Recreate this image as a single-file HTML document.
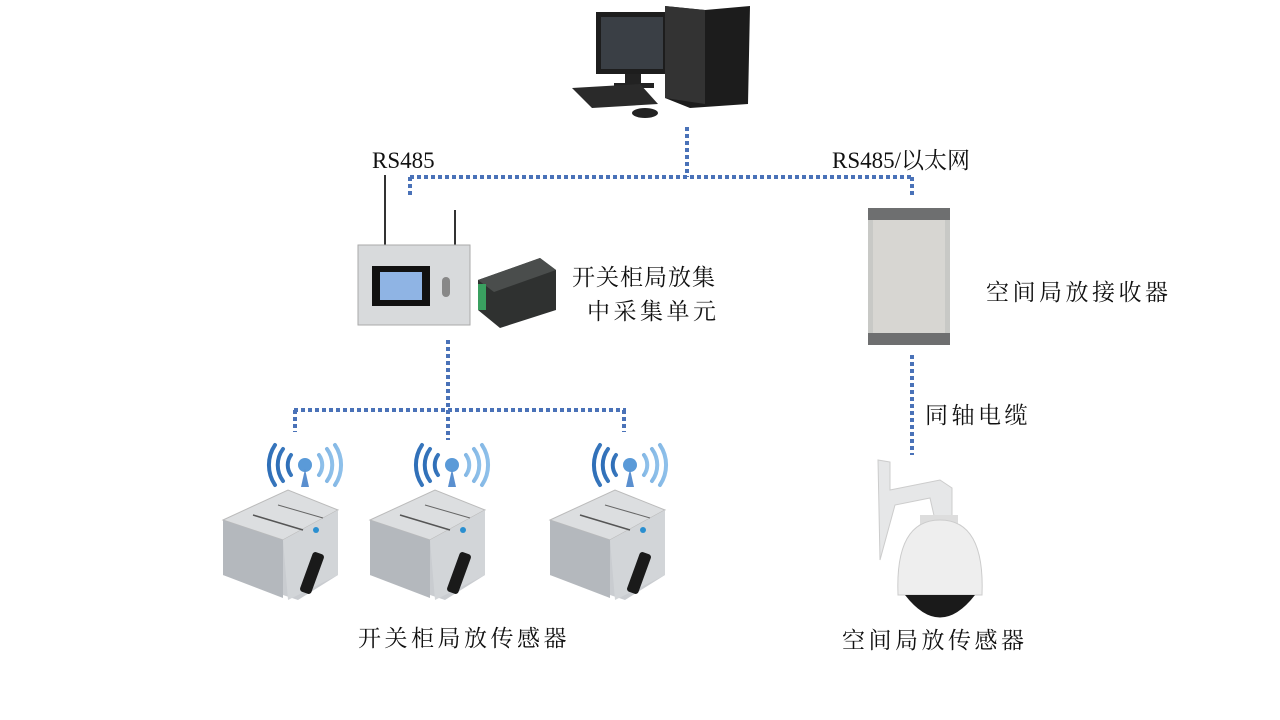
<!DOCTYPE html>
<html><head><meta charset="utf-8"><style>
body{margin:0;width:1280px;height:720px;background:#fff;position:relative;overflow:hidden;font-family:"Liberation Serif","Noto Serif CJK SC",serif;color:#111}
.t{position:absolute;font-size:23px;letter-spacing:3.5px;white-space:nowrap;line-height:1}
.a{position:absolute}
</style></head><body>
<svg class="a" style="left:0;top:0" width="1280" height="720">
<defs>
<linearGradient id="wf" x1="0" y1="0" x2="1" y2="0"><stop offset="0" stop-color="#2f6fb8"/><stop offset="1" stop-color="#8ec0ea"/></linearGradient>
<g id="wifi" fill="none" stroke="url(#wf)" stroke-linecap="round">
<circle cx="0" cy="0" r="7" fill="#5a9ad8" stroke="none"/>
<path d="M-4 22 L0 4 L4 22 Z" fill="#5a8fcf" stroke="none"/>
<path d="M-14 -10 A17 17 0 0 0 -14 10 M14 -10 A17 17 0 0 1 14 10" stroke-width="4"/>
<path d="M-22 -16 A27 27 0 0 0 -22 16 M22 -16 A27 27 0 0 1 22 16" stroke-width="4"/>
<path d="M-30 -20 A36 36 0 0 0 -30 20 M30 -20 A36 36 0 0 1 30 20" stroke-width="4"/>
</g>
<g id="sens">
<path d="M5 30 L70 0 L120 20 L120 85 L80 110 L5 85 Z" fill="#c9ccd0"/>
<path d="M5 30 L70 0 L120 20 L65 50 Z" fill="#dcdee0" stroke="#bbb"/>
<path d="M5 30 L65 50 L65 108 L5 85 Z" fill="#b4b8bd"/>
<path d="M65 50 L120 20 L120 85 L70 110 Z" fill="#d2d5d8"/>
<line x1="35" y1="25" x2="85" y2="40" stroke="#555" stroke-width="1.5"/>
<line x1="60" y1="15" x2="105" y2="28" stroke="#666"/>
<circle cx="98" cy="40" r="3" fill="#2a8fd0"/>
<rect x="88" y="62" width="12" height="42" rx="3" fill="#1a1a1a" transform="rotate(20 94 83)"/>
</g>
</defs>
<g stroke="#4a72b8" stroke-width="4" stroke-dasharray="4 3" fill="none">
<line x1="687" y1="127" x2="687" y2="177"/>
<line x1="410" y1="177" x2="914" y2="177"/>
<line x1="410" y1="177" x2="410" y2="196"/>
<line x1="912" y1="177" x2="912" y2="196"/>
<line x1="448" y1="340" x2="448" y2="440"/>
<line x1="294" y1="410" x2="626" y2="410"/>
<line x1="295" y1="410" x2="295" y2="432"/>
<line x1="624" y1="410" x2="624" y2="432"/>
<line x1="912" y1="355" x2="912" y2="455"/>
</g>
<rect x="596" y="12" width="72" height="62" fill="#1d1d1d"/>
<rect x="601" y="17" width="62" height="52" fill="#3a3f45"/>
<rect x="625" y="74" width="16" height="10" fill="#222"/>
<rect x="614" y="83" width="40" height="5" fill="#222"/>
<path d="M665 6 L705 10 L750 6 L748 104 L690 108 L665 98 Z" fill="#1c1c1c"/>
<path d="M665 6 L705 10 L705 104 L665 98 Z" fill="#333"/>
<path d="M572 88 L640 84 L658 104 L592 108 Z" fill="#2a2a2a"/>
<ellipse cx="645" cy="113" rx="13" ry="5" fill="#222"/>
<line x1="385" y1="175" x2="385" y2="245" stroke="#333" stroke-width="2"/>
<line x1="455" y1="210" x2="455" y2="245" stroke="#333" stroke-width="2"/>
<rect x="358" y="245" width="112" height="80" fill="#d8dadc" stroke="#aaa"/>
<rect x="372" y="266" width="58" height="40" fill="#111"/>
<rect x="380" y="272" width="42" height="28" fill="#8fb4e4"/>
<rect x="442" y="277" width="8" height="20" rx="4" fill="#888"/>
<path d="M478 280 L540 258 L556 270 L556 310 L500 328 L478 310 Z" fill="#2f3130"/>
<path d="M478 280 L540 258 L556 270 L494 292 Z" fill="#4a4d4c"/>
<rect x="478" y="284" width="8" height="26" fill="#3aa060"/>
<rect x="868" y="208" width="82" height="137" fill="#c8c9c6"/>
<rect x="868" y="208" width="82" height="12" fill="#6e6f70"/>
<rect x="868" y="333" width="82" height="12" fill="#6e6f70"/>
<rect x="873" y="220" width="72" height="113" fill="#d7d6d2"/>
<path d="M878 460 L890 462 L890 490 L940 480 L952 488 L952 520 L935 520 L930 498 L895 505 L880 560 Z" fill="#e6e7e8" stroke="#ccc"/>
<rect x="920" y="515" width="38" height="12" fill="#ddd"/>
<path d="M898 595 Q895 520 940 520 Q985 520 982 595 Z" fill="#eeeeee" stroke="#ccc"/>
<path d="M905 595 Q940 640 975 595 Z" fill="#1a1a1a"/>
<use href="#wifi" x="305" y="465"/>
<use href="#wifi" x="452" y="465"/>
<use href="#wifi" x="630" y="465"/>
<use href="#sens" x="218" y="490"/>
<use href="#sens" x="365" y="490"/>
<use href="#sens" x="545" y="490"/>
</svg>
<div class="t" style="left:372px;top:149px;letter-spacing:0">RS485</div>
<div class="t" style="left:832px;top:149px;letter-spacing:0">RS485/以太网</div>
<div class="t" style="left:572px;top:266px;letter-spacing:1px">开关柜局放集</div>
<div class="t" style="left:587px;top:300px">中采集单元</div>
<div class="t" style="left:986px;top:281px">空间局放接收器</div>
<div class="t" style="left:925px;top:404px">同轴电缆</div>
<div class="t" style="left:358px;top:627px">开关柜局放传感器</div>
<div class="t" style="left:842px;top:629px">空间局放传感器</div>
</body></html>
